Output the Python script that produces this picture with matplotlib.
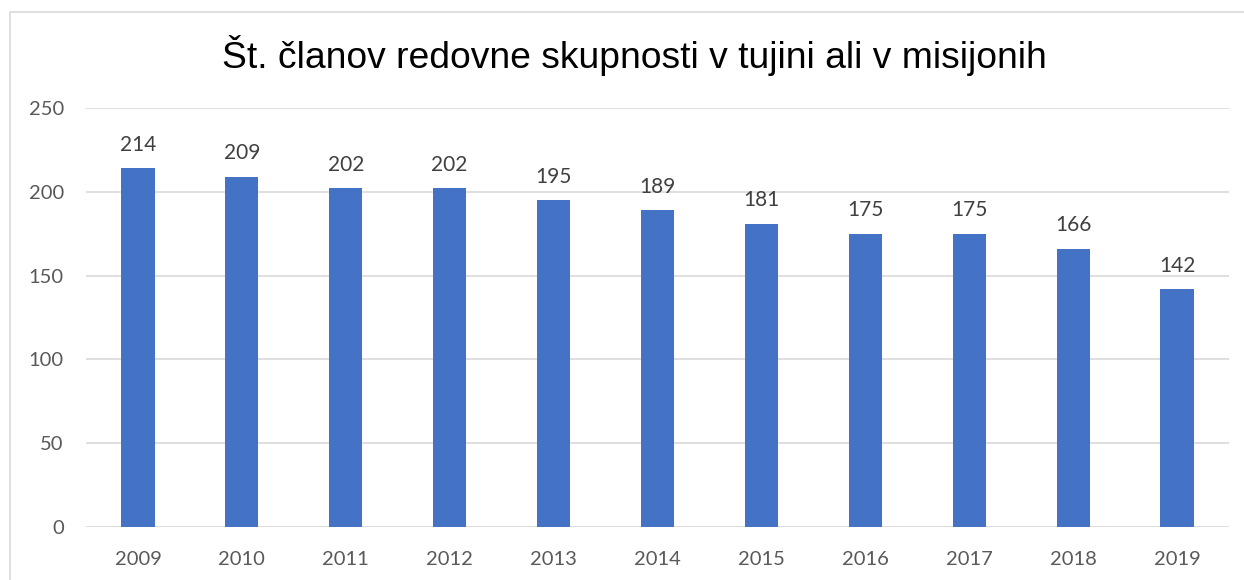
import matplotlib.pyplot as plt
from matplotlib.patches import Rectangle

years = ['2009', '2010', '2011', '2012', '2013', '2014', '2015', '2016', '2017', '2018', '2019']
members = [214, 209, 202, 202, 195, 189, 181, 175, 175, 166, 142]

title = 'Št. članov redovne skupnosti v tujini ali v misijonih'

fig = plt.figure(figsize=(12.44, 5.8), dpi=100)
# outer chart frame (cropped on the right and bottom)
fig.patches.append(Rectangle((10 / 1244, -0.1), 1.2, 1 - 12 / 580 + 0.1,
                             transform=fig.transFigure, fill=False,
                             edgecolor='#d9d9d9', linewidth=1.2))

ax = fig.add_axes([86 / 1244, 1 - 527 / 580, (1229 - 86) / 1244, (527 - 108) / 580])
x = range(len(years))
bars = ax.bar(x, members, width=0.32, color='#4472c4', zorder=3)

for xi, v in zip(x, members):
    ax.text(xi, v + 8, str(v), ha='center', va='bottom', fontsize=15,
            color='#404040', family='Lato')

ax.set_ylim(0, 250)
ax.set_xlim(-0.5, len(years) - 0.5)
ax.set_yticks(range(0, 251, 50))
ax.set_xticks(list(x))
ax.set_xticklabels(years)
ax.yaxis.grid(True, color='#d9d9d9', linewidth=1.2, zorder=0)
for s in ax.spines.values():
    s.set_visible(False)
ax.tick_params(length=0, labelsize=14.5, labelcolor='#595959')
ax.tick_params(axis='x', pad=17)
ax.tick_params(axis='y', pad=16)
for lab in ax.get_xticklabels() + ax.get_yticklabels():
    lab.set_family('Lato')

fig.text(634 / 1244, 1 - 55 / 580, title, ha='center', va='center',
         fontsize=26.8, family='Liberation Sans', color='black')

fig.savefig('out.png', dpi=100)
